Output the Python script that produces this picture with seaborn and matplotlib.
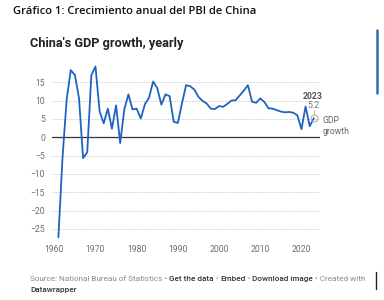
import numpy as np
import pandas as pd
import matplotlib
matplotlib.use("Agg")
import matplotlib.pyplot as plt
import seaborn as sns

# --- data ---
years = list(range(1961, 2024))
growth = [-27.3, -5.6, 10.2, 18.3, 17.0, 10.7, -5.7, -4.1, 16.9, 19.3,
          7.1, 3.8, 7.8, 2.3, 8.7, -1.6, 7.6, 11.7, 7.6, 7.8,
          5.1, 9.0, 10.8, 15.2, 13.4, 8.9, 11.7, 11.2, 4.2, 3.9,
          9.3, 14.2, 13.9, 13.0, 11.0, 9.9, 9.2, 7.8, 7.7, 8.5,
          8.3, 9.1, 10.0, 10.1, 11.4, 12.7, 14.2, 9.7, 9.4, 10.6,
          9.6, 7.9, 7.8, 7.4, 7.0, 6.8, 6.9, 6.7, 6.0, 2.2,
          8.4, 3.0, 5.2]
x_ticks = [1960, 1970, 1980, 1990, 2000, 2010, 2020]
y_ticks = [-25, -20, -15, -10, -5, 0, 5, 10, 15]

df = pd.DataFrame({"year": years, "growth": growth})

W, H = 384, 300
sns.set_style("white")
plt.rcParams['font.family'] = ['Roboto', 'DejaVu Sans']

fig = plt.figure(figsize=(W / 100, H / 100), dpi=100)
ax = fig.add_axes([52 / W, 1 - 241 / H, 268 / W, 180 / H])

sns.lineplot(data=df, x="year", y="growth", ax=ax, color="#1f63c0", linewidth=1.3)

ax.set_xlim(1959.45, 2024.5)
ax.set_ylim(-28.3, 20.8)
ax.set_xticks(x_ticks)
ax.set_yticks(y_ticks)
ax.set_xlabel("")
ax.set_ylabel("")
for s in ax.spines.values():
    s.set_visible(False)
ax.tick_params(axis="both", length=0, labelsize=6.2, colors="#6e6e6e", pad=3)
ax.tick_params(axis="y", pad=5)
for v in y_ticks:
    if v == 0:
        ax.axhline(0, color="#333333", linewidth=0.9, zorder=1)
    else:
        ax.axhline(v, color="#bdbdbd", linewidth=0.6, linestyle=(0, (1, 1.2)), zorder=0)

# last point annotation
ax.plot(years[-1], growth[-1], marker="o", markersize=5, markerfacecolor="none",
        markeredgecolor="#b0b0b0", markeredgewidth=0.8)
ax.plot([years[-1], years[-1]], [growth[-1] + 1.2, growth[-1] + 2.3], color="#b0b0b0", linewidth=0.6)
ax.text(years[-1] - 0.2, 11.1, "2023", fontsize=6.2, fontweight="bold", color="#555555", ha="center", va="center")
ax.text(years[-1] - 0.2, 8.6, "5.2", fontsize=6.2, color="#777777", ha="center", va="center")
ax.text(2025.2, 4.5, "GDP", fontsize=6.2, color="#666666", ha="left", va="center", clip_on=False)
ax.text(2025.2, 1.5, "growth", fontsize=6.2, color="#666666", ha="left", va="center", clip_on=False)

# titles
fig.text(13 / W, 1 - 12 / H, "Gráfico 1: Crecimiento anual del PBI de China", fontsize=8.1,
         family=["Open Sans", "DejaVu Sans"], fontweight="semibold", color="#111111",
         ha="left", va="center")
fig.text(30 / W, 1 - 43 / H, "China's GDP growth, yearly", fontsize=9.2, fontweight="bold",
         color="#222222", ha="left", va="center")

# footer, pieces in different colours
fig.canvas.draw()
renderer = fig.canvas.get_renderer()
pieces = [("Source: National Bureau of Statistics • ", "#8a8a8a", "normal"),
          ("Get the data", "#333333", "medium"),
          (" • ", "#8a8a8a", "normal"),
          ("Embed", "#333333", "medium"),
          (" • ", "#8a8a8a", "normal"),
          ("Download image", "#333333", "medium"),
          (" • Created with", "#8a8a8a", "normal")]
xpos = 30 / W
for txt, col, wt in pieces:
    t = fig.text(xpos, 1 - 279 / H, txt, fontsize=5.9, color=col, fontweight=wt, ha="left", va="center")
    bb = t.get_window_extent(renderer=renderer)
    xpos = bb.x1 / W
fig.text(30 / W, 1 - 290 / H, "Datawrapper", fontsize=5.9, color="#333333", fontweight="medium",
         ha="left", va="center")

# side bars
fig.add_artist(plt.Line2D([377 / W, 377 / W], [1 - 30 / H, 1 - 93 / H], color="#2d6db5", linewidth=1.8))
fig.add_artist(plt.Line2D([376 / W, 376 / W], [1 - 272 / H, 1 - 289 / H], color="#222222", linewidth=1.0))

fig.savefig("out.png", dpi=100)
